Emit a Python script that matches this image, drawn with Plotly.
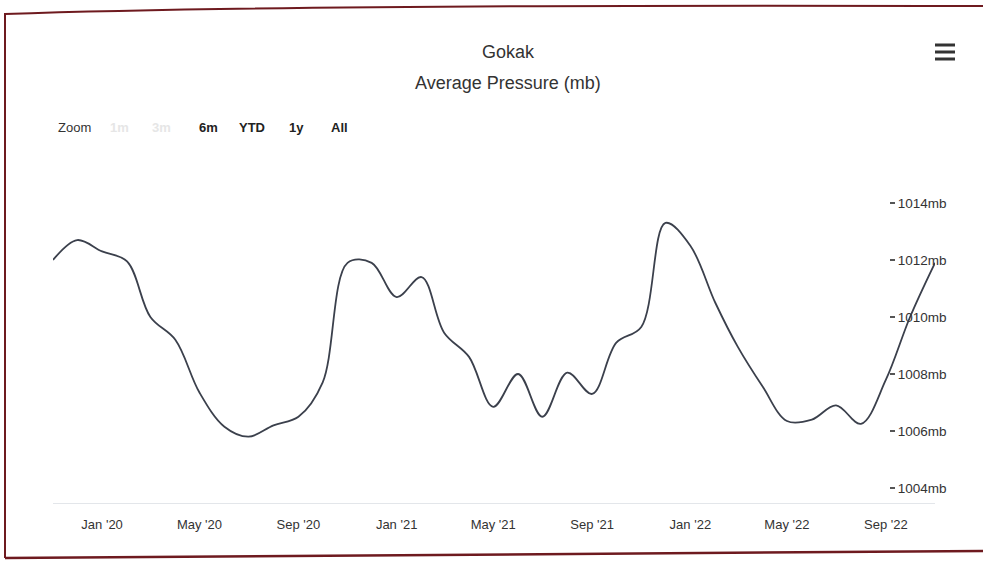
import plotly.graph_objects as go

# ---- data ----
months = [
    "2019-11-01", "2019-12-01",
    "2020-01-01", "2020-02-01", "2020-03-01", "2020-04-01", "2020-05-01", "2020-06-01",
    "2020-07-01", "2020-08-01", "2020-09-01", "2020-10-01", "2020-11-01", "2020-12-01",
    "2021-01-01", "2021-02-01", "2021-03-01", "2021-04-01", "2021-05-01", "2021-06-01",
    "2021-07-01", "2021-08-01", "2021-09-01", "2021-10-01", "2021-11-01", "2021-12-01",
    "2022-01-01", "2022-02-01", "2022-03-01", "2022-04-01", "2022-05-01", "2022-06-01",
    "2022-07-01", "2022-08-01", "2022-09-01", "2022-10-01", "2022-11-01",
]
pressure_mb = [
    1012.0, 1012.7,
    1012.3, 1011.95, 1010.0, 1009.2, 1007.35, 1006.15,
    1005.8, 1006.2, 1006.5, 1007.7, 1011.9, 1011.9,
    1010.7, 1011.4, 1009.45, 1008.6, 1006.85, 1008.0,
    1006.5, 1008.05, 1007.3, 1009.1, 1009.65, 1013.3,
    1012.5, 1010.5, 1008.95, 1007.55, 1006.35, 1006.4,
    1006.9, 1006.25, 1007.8, 1010.0, 1011.9,
]
y_ticks = [1004, 1006, 1008, 1010, 1012, 1014]
y_tick_labels = [f"{v}mb" for v in y_ticks]
x_ticks = ["2020-01-01", "2020-05-01", "2020-09-01", "2021-01-01", "2021-05-01",
           "2021-09-01", "2022-01-01", "2022-05-01", "2022-09-01"]
range_buttons = ["1m", "3m", "6m", "YTD", "1y", "All"]
button_enabled = [False, False, True, True, True, True]

W, H = 983, 562
L, R, T, B = 53, 48, 160, 59
PW, PH = W - L - R, H - T - B


def px(x):
    return (x - L) / PW


def py(y):
    return (H - B - y) / PH


fig = go.Figure()
fig.add_trace(go.Scatter(
    x=months, y=pressure_mb, mode="lines",
    line=dict(color="#3b404c", width=1.8, shape="spline", smoothing=1.0),
    showlegend=False, hoverinfo="x+y",
))

font = "Liberation Sans, Arial, sans-serif"

fig.update_layout(
    width=W, height=H,
    margin=dict(l=L, r=R, t=T, b=B),
    paper_bgcolor="white", plot_bgcolor="white",
    font=dict(family=font, color="#333333"),
    title=dict(text="Gokak", x=px(508), xanchor="center", xref="paper",
               y=1 - 52 / H, yref="container", yanchor="middle",
               font=dict(size=18, color="#333333", family=font)),
    xaxis=dict(
        range=["2019-11-01", "2022-11-01"],
        tickvals=x_ticks, tickformat="%b '%y",
        showgrid=False, zeroline=False,
        showline=True, linecolor="#e3e6ea", linewidth=1,
        ticks="", ticklabelstandoff=9, tickfont=dict(size=13, color="#333333"),
    ),
    yaxis=dict(
        range=[1004 - (H - B - 488) / 28.5, 1014 + (203 - T) / 28.5],
        side="right", anchor="free", position=px(889),
        tickvals=y_ticks, ticktext=y_tick_labels,
        ticks="outside", ticklen=5, tickcolor="#555555", tickwidth=1.5,
        showgrid=False, zeroline=False, showline=False,
        tickfont=dict(size=13.5, color="#333333"),
    ),
)

# subtitle
fig.add_annotation(text="Average Pressure (mb)", xref="paper", yref="paper",
                   x=px(508), y=py(83), xanchor="center", yanchor="middle", showarrow=False,
                   font=dict(size=18, color="#333333", family=font))

# range selector look-alike
fig.add_annotation(text="Zoom", xref="paper", yref="paper", x=px(74), y=py(127),
                   xanchor="center", yanchor="middle",
                   showarrow=False, font=dict(size=13, color="#333333", family=font))
btn_x = [119, 161, 208, 252, 296, 339]
for lab, en, bx in zip(range_buttons, button_enabled, btn_x):
    fig.add_annotation(text=f"<b>{lab}</b>", xref="paper", yref="paper", x=px(bx), y=py(127),
                       xanchor="center", yanchor="middle", showarrow=False,
                       font=dict(size=13, color="#222222" if en else "#e6e6e6", family=font))

# hamburger menu icon
for yy in (45, 52, 59):
    fig.add_shape(type="line", xref="paper", yref="paper",
                  x0=px(935), x1=px(955), y0=py(yy), y1=py(yy),
                  line=dict(color="#333333", width=3))

# photo frame edges (dark red)
frame = (f"M {px(5)},{py(558)} L {px(5)},{py(14)} Q {px(300)},{py(4)} {px(983)},{py(6)}")
fig.add_shape(type="path", xref="paper", yref="paper", path=frame,
              line=dict(color="#6e1a1f", width=2))
fig.add_shape(type="path", xref="paper", yref="paper",
              path=f"M {px(5)},{py(558)} L {px(983)},{py(551)}",
              line=dict(color="#6e1a1f", width=2.5))

fig.write_html(
    "out.html",
    config={"displayModeBar": False},
    post_script="document.body.style.margin='0';document.body.style.overflow='hidden';",
)
